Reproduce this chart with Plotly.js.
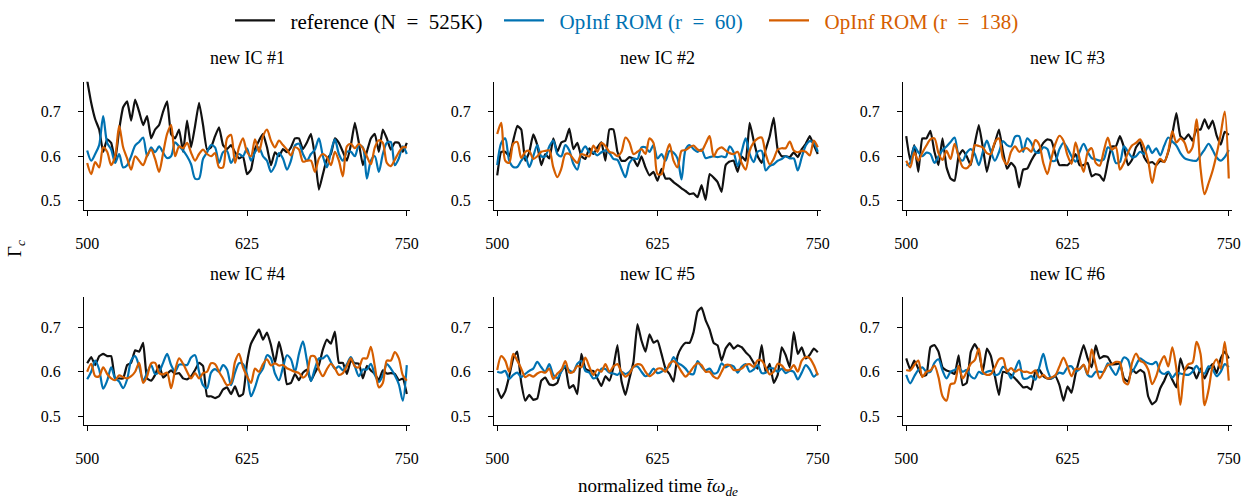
<!DOCTYPE html>
<html>
<head>
<meta charset="utf-8">
<script src="https://cdn.plot.ly/plotly-3.0.1.min.js"></script>
<style>html,body{margin:0;padding:0;background:#fff;}#chart{width:1256px;height:502px;}</style>
</head>
<body>
<div id="chart"></div>
<script>
// ---------- data ----------
const panelTitles = ["new IC #1", "new IC #2", "new IC #3", "new IC #4", "new IC #5", "new IC #6"];
const seriesNames = ["reference (N  =  525K)", "OpInf ROM (r  =  60)", "OpInf ROM (r  =  138)"];
const xTickVals = [500, 625, 750];
const yTickVals = [0.5, 0.6, 0.7];
const yTickText = ["0.5", "0.6", "0.7"];
const tStart = 500, tStep = 3.125, nSamples = 81;   // sampling times 500 ... 750

const ref1 = [0.77,0.72,0.683,0.66,0.61,0.638,0.63,0.59,0.66,0.71,0.723,0.68,0.727,0.70,0.67,0.69,0.64,0.66,0.67,0.70,0.723,0.65,0.64,0.66,0.61,0.68,0.62,0.668,0.72,0.67,0.615,0.62,0.645,0.665,0.625,0.616,0.625,0.609,0.595,0.60,0.56,
  0.57,0.616,0.635,0.65,0.62,0.58,0.609,0.60,0.616,0.609,0.62,0.64,0.64,0.616,0.631,0.65,0.60,0.525,0.56,0.594,0.605,0.64,0.63,0.61,0.59,0.625,0.675,0.63,0.58,0.61,0.64,0.65,0.61,0.66,0.64,0.615,0.631,0.63,0.61,0.63];
const rom60_1 = [0.613,0.59,0.605,0.625,0.69,0.63,0.615,0.585,0.605,0.575,0.58,0.60,0.624,0.632,0.642,0.60,0.62,0.609,0.622,0.608,0.596,0.60,0.631,0.622,0.613,0.60,0.582,0.55,0.55,0.594,0.609,0.625,0.62,0.585,0.609,0.612,0.585,0.60,0.605,0.60,0.618,
  0.59,0.609,0.62,0.60,0.59,0.565,0.579,0.607,0.595,0.57,0.59,0.624,0.628,0.605,0.59,0.605,0.615,0.64,0.60,0.575,0.61,0.638,0.605,0.59,0.61,0.61,0.60,0.625,0.62,0.55,0.59,0.60,0.565,0.605,0.63,0.632,0.58,0.595,0.622,0.605];
const rom138_1 = [0.585,0.56,0.587,0.575,0.62,0.61,0.58,0.60,0.668,0.62,0.595,0.57,0.60,0.59,0.58,0.602,0.615,0.594,0.565,0.607,0.65,0.67,0.60,0.622,0.618,0.63,0.608,0.59,0.605,0.615,0.605,0.60,0.607,0.575,0.575,0.64,0.648,0.585,0.62,0.64,0.61,
  0.60,0.638,0.61,0.645,0.66,0.635,0.62,0.635,0.625,0.615,0.602,0.62,0.615,0.588,0.59,0.59,0.565,0.595,0.605,0.598,0.58,0.61,0.59,0.555,0.622,0.628,0.618,0.628,0.618,0.60,0.582,0.62,0.636,0.63,0.585,0.578,0.592,0.609,0.62,0.62];

const ref2 = [0.557,0.61,0.61,0.60,0.635,0.668,0.66,0.59,0.609,0.649,0.625,0.58,0.605,0.595,0.64,0.61,0.631,0.635,0.662,0.616,0.63,0.60,0.594,0.618,0.605,0.62,0.631,0.59,0.66,0.66,0.61,0.59,0.59,0.598,0.594,0.578,0.60,0.575,0.557,0.565,0.545,
  0.572,0.55,0.55,0.542,0.535,0.528,0.522,0.515,0.517,0.508,0.535,0.502,0.56,0.552,0.542,0.52,0.58,0.588,0.59,0.565,0.60,0.59,0.675,0.635,0.60,0.585,0.615,0.645,0.686,0.615,0.60,0.60,0.598,0.609,0.598,0.616,0.628,0.645,0.625,0.605];
const rom60_2 = [0.58,0.63,0.64,0.59,0.576,0.576,0.59,0.60,0.576,0.60,0.625,0.60,0.60,0.622,0.635,0.605,0.60,0.625,0.613,0.583,0.57,0.608,0.622,0.609,0.609,0.602,0.609,0.613,0.607,0.594,0.592,0.572,0.553,0.585,0.595,0.594,0.62,0.62,0.61,0.625,0.595,
  0.605,0.59,0.612,0.608,0.595,0.548,0.615,0.625,0.616,0.61,0.615,0.596,0.598,0.60,0.598,0.60,0.598,0.622,0.609,0.578,0.61,0.64,0.605,0.587,0.61,0.612,0.568,0.578,0.582,0.59,0.594,0.60,0.595,0.595,0.568,0.598,0.624,0.634,0.63,0.61];
const rom138_2 = [0.65,0.675,0.59,0.585,0.628,0.632,0.596,0.61,0.612,0.594,0.60,0.61,0.612,0.613,0.575,0.553,0.572,0.605,0.605,0.594,0.585,0.605,0.602,0.60,0.624,0.61,0.63,0.623,0.61,0.607,0.60,0.61,0.642,0.631,0.605,0.61,0.616,0.605,0.64,0.63,0.56,
  0.56,0.60,0.627,0.59,0.575,0.612,0.614,0.62,0.624,0.615,0.612,0.628,0.645,0.60,0.615,0.62,0.613,0.607,0.605,0.61,0.585,0.57,0.612,0.631,0.64,0.642,0.605,0.582,0.594,0.615,0.618,0.618,0.633,0.613,0.609,0.612,0.61,0.602,0.635,0.62];

const ref3 = [0.645,0.59,0.625,0.565,0.64,0.64,0.657,0.61,0.58,0.64,0.575,0.55,0.545,0.60,0.614,0.60,0.58,0.628,0.67,0.62,0.565,0.605,0.63,0.66,0.61,0.572,0.585,0.575,0.53,0.57,0.572,0.59,0.605,0.614,0.63,0.638,0.635,0.605,0.58,0.58,0.58,
  0.59,0.605,0.58,0.58,0.585,0.555,0.56,0.557,0.545,0.587,0.622,0.622,0.645,0.62,0.58,0.592,0.62,0.632,0.598,0.585,0.587,0.58,0.59,0.587,0.61,0.65,0.697,0.645,0.638,0.649,0.635,0.66,0.66,0.683,0.662,0.68,0.646,0.626,0.655,0.648];
const rom60_3 = [0.579,0.585,0.622,0.609,0.60,0.608,0.605,0.585,0.60,0.614,0.622,0.632,0.642,0.60,0.59,0.608,0.616,0.605,0.58,0.61,0.635,0.61,0.59,0.609,0.634,0.625,0.622,0.644,0.645,0.61,0.64,0.63,0.61,0.608,0.62,0.616,0.59,0.59,0.616,0.63,0.618,
  0.60,0.588,0.61,0.628,0.61,0.596,0.593,0.59,0.593,0.62,0.612,0.585,0.587,0.622,0.61,0.598,0.60,0.61,0.605,0.624,0.607,0.618,0.602,0.624,0.642,0.633,0.624,0.607,0.596,0.592,0.59,0.59,0.602,0.615,0.628,0.614,0.597,0.59,0.598,0.614];
const rom138_3 = [0.59,0.575,0.608,0.59,0.608,0.624,0.638,0.64,0.607,0.592,0.612,0.594,0.628,0.60,0.576,0.573,0.585,0.625,0.623,0.62,0.607,0.605,0.632,0.64,0.595,0.582,0.61,0.622,0.61,0.616,0.618,0.61,0.636,0.626,0.585,0.56,0.595,0.628,0.646,0.635,0.602,
  0.583,0.631,0.595,0.565,0.609,0.618,0.585,0.579,0.612,0.642,0.615,0.62,0.57,0.585,0.608,0.624,0.63,0.638,0.62,0.59,0.54,0.58,0.594,0.587,0.612,0.656,0.631,0.64,0.631,0.608,0.62,0.683,0.572,0.515,0.54,0.568,0.605,0.65,0.70,0.55];

const ref4 = [0.619,0.633,0.615,0.635,0.64,0.635,0.635,0.585,0.585,0.585,0.615,0.62,0.648,0.645,0.665,0.585,0.58,0.593,0.615,0.587,0.595,0.603,0.595,0.597,0.585,0.583,0.59,0.604,0.62,0.613,0.545,0.545,0.541,0.545,0.56,0.565,0.55,0.567,0.545,0.55,0.62,
  0.663,0.68,0.695,0.672,0.688,0.66,0.62,0.667,0.63,0.572,0.575,0.595,0.581,0.598,0.605,0.58,0.598,0.615,0.65,0.672,0.663,0.69,0.62,0.62,0.595,0.625,0.619,0.618,0.585,0.613,0.603,0.595,0.581,0.603,0.596,0.597,0.595,0.581,0.585,0.55];
const rom60_4 = [0.583,0.60,0.625,0.605,0.562,0.58,0.61,0.585,0.578,0.563,0.583,0.625,0.635,0.612,0.58,0.598,0.615,0.595,0.60,0.62,0.64,0.615,0.60,0.616,0.616,0.615,0.632,0.637,0.60,0.57,0.563,0.598,0.606,0.60,0.615,0.605,0.57,0.598,0.619,0.617,0.595,
  0.545,0.565,0.593,0.607,0.637,0.63,0.596,0.581,0.61,0.637,0.628,0.60,0.64,0.668,0.625,0.579,0.607,0.63,0.63,0.637,0.622,0.607,0.612,0.603,0.617,0.633,0.612,0.59,0.605,0.605,0.618,0.593,0.577,0.592,0.617,0.607,0.592,0.572,0.535,0.615];
const rom138_4 = [0.60,0.618,0.59,0.59,0.61,0.595,0.585,0.581,0.592,0.588,0.585,0.59,0.60,0.62,0.575,0.59,0.619,0.62,0.597,0.594,0.598,0.563,0.603,0.63,0.618,0.60,0.585,0.597,0.585,0.597,0.60,0.619,0.617,0.60,0.585,0.57,0.575,0.622,0.64,0.61,0.59,
  0.575,0.607,0.60,0.617,0.628,0.614,0.619,0.614,0.615,0.608,0.604,0.60,0.597,0.587,0.595,0.635,0.634,0.605,0.59,0.606,0.618,0.608,0.593,0.597,0.613,0.63,0.612,0.61,0.63,0.63,0.656,0.612,0.565,0.575,0.625,0.625,0.644,0.63,0.592,0.58];

const ref5 = [0.563,0.541,0.556,0.59,0.63,0.645,0.575,0.535,0.548,0.537,0.54,0.58,0.587,0.572,0.57,0.575,0.604,0.61,0.563,0.57,0.55,0.64,0.607,0.602,0.602,0.585,0.568,0.59,0.58,0.61,0.66,0.58,0.548,0.585,0.622,0.707,0.67,0.645,0.684,0.665,0.67,
  0.64,0.607,0.595,0.578,0.635,0.655,0.665,0.665,0.689,0.735,0.744,0.716,0.695,0.665,0.659,0.625,0.652,0.664,0.652,0.659,0.655,0.644,0.635,0.62,0.607,0.66,0.598,0.618,0.575,0.593,0.655,0.637,0.61,0.689,0.64,0.655,0.63,0.638,0.652,0.644];
const rom60_5 = [0.60,0.598,0.602,0.584,0.593,0.598,0.588,0.595,0.602,0.607,0.622,0.61,0.60,0.617,0.593,0.586,0.60,0.613,0.603,0.60,0.618,0.624,0.602,0.598,0.585,0.59,0.607,0.606,0.598,0.596,0.593,0.60,0.595,0.60,0.611,0.612,0.60,0.59,0.595,0.607,0.597,
  0.60,0.607,0.612,0.633,0.62,0.615,0.607,0.596,0.595,0.624,0.611,0.603,0.607,0.596,0.599,0.619,0.61,0.615,0.612,0.598,0.611,0.617,0.60,0.605,0.615,0.597,0.598,0.608,0.607,0.60,0.607,0.597,0.602,0.60,0.583,0.598,0.615,0.605,0.589,0.598];
const rom138_5 = [0.604,0.635,0.625,0.60,0.64,0.625,0.607,0.588,0.593,0.589,0.596,0.60,0.598,0.607,0.584,0.596,0.604,0.624,0.598,0.60,0.613,0.61,0.632,0.611,0.593,0.605,0.60,0.617,0.60,0.612,0.617,0.60,0.589,0.596,0.611,0.617,0.615,0.60,0.59,0.596,0.607,
  0.607,0.60,0.618,0.624,0.615,0.60,0.589,0.598,0.611,0.619,0.615,0.60,0.60,0.589,0.585,0.60,0.615,0.615,0.604,0.604,0.607,0.615,0.617,0.611,0.626,0.625,0.61,0.594,0.60,0.618,0.614,0.604,0.604,0.615,0.60,0.625,0.633,0.63,0.615,0.592];

const ref6 = [0.63,0.605,0.625,0.607,0.59,0.593,0.655,0.66,0.645,0.61,0.603,0.60,0.595,0.637,0.57,0.575,0.644,0.662,0.645,0.60,0.652,0.635,0.59,0.548,0.60,0.597,0.593,0.585,0.575,0.565,0.566,0.56,0.60,0.605,0.59,0.585,0.585,0.59,0.57,0.535,0.567,
  0.553,0.595,0.63,0.66,0.63,0.61,0.659,0.63,0.635,0.633,0.617,0.617,0.618,0.585,0.578,0.605,0.597,0.604,0.598,0.545,0.527,0.535,0.563,0.58,0.60,0.582,0.565,0.63,0.603,0.61,0.607,0.585,0.607,0.585,0.605,0.617,0.597,0.63,0.645,0.63];
const rom60_6 = [0.593,0.574,0.59,0.604,0.61,0.60,0.60,0.62,0.628,0.603,0.585,0.60,0.604,0.61,0.60,0.604,0.59,0.585,0.60,0.595,0.60,0.602,0.593,0.595,0.611,0.604,0.585,0.605,0.625,0.585,0.585,0.59,0.582,0.61,0.64,0.605,0.585,0.592,0.598,0.596,0.61,
  0.612,0.60,0.606,0.615,0.593,0.589,0.60,0.60,0.60,0.619,0.605,0.593,0.613,0.632,0.627,0.60,0.615,0.63,0.624,0.619,0.617,0.622,0.60,0.595,0.60,0.587,0.597,0.596,0.594,0.593,0.60,0.613,0.60,0.596,0.612,0.605,0.59,0.60,0.617,0.61];
const rom138_6 = [0.604,0.603,0.615,0.625,0.588,0.60,0.603,0.614,0.588,0.545,0.535,0.572,0.575,0.613,0.585,0.60,0.618,0.626,0.652,0.60,0.593,0.595,0.61,0.628,0.63,0.60,0.608,0.60,0.605,0.60,0.60,0.597,0.603,0.587,0.593,0.585,0.587,0.592,0.612,0.632,0.612,
  0.59,0.607,0.606,0.616,0.595,0.65,0.615,0.585,0.60,0.615,0.617,0.622,0.621,0.578,0.572,0.62,0.641,0.625,0.62,0.605,0.572,0.59,0.619,0.635,0.612,0.655,0.607,0.526,0.60,0.617,0.62,0.667,0.64,0.525,0.56,0.612,0.628,0.607,0.667,0.58];

const refSeries = [ref1, ref2, ref3, ref4, ref5, ref6];
const rom60Series = [rom60_1, rom60_2, rom60_3, rom60_4, rom60_5, rom60_6];
const rom138Series = [rom138_1, rom138_2, rom138_3, rom138_4, rom138_5, rom138_6];

// ---------- styling ----------
const FONT = "Liberation Serif, DejaVu Serif, serif";
const colors = ["#111111", "#0072B2", "#D55E00"];
const legendTextColors = ["#000000", "#0072B2", "#D55E00"];
const legendIds = ["legend", "legend2", "legend3"];
const legendLeft = [230, 499, 764];   // left edge of each legend box (px)
const W = 1256, H = 502;
const colDom = [[84, 410], [494, 821], [903, 1232]];
const rowDom = [[75, 205], [294, 424]];

const time = [];
for (let i = 0; i < nSamples; i++) time.push(tStart + tStep * i);

// keep double spaces visible in legend text
const legendLabel = s => "\u00a0\u00a0" + s.replace(/  /g, "\u00a0\u00a0");

const traces = [];
const layout = {
  width: W, height: H,
  margin: {l: 0, r: 0, t: 0, b: 0},
  paper_bgcolor: "#fff", plot_bgcolor: "#fff",
  font: {family: FONT, size: 15, color: "#000"},
  showlegend: true,
  annotations: [], shapes: []
};
for (let s = 0; s < 3; s++) {
  layout[legendIds[s]] = {
    orientation: "h", x: legendLeft[s] / W, xanchor: "left", y: 1 - 13 / H, yanchor: "middle",
    font: {family: FONT, size: 21, color: legendTextColors[s]}, itemwidth: 40,
    bgcolor: "rgba(0,0,0,0)", borderwidth: 0
  };
}

for (let p = 0; p < 6; p++) {
  const r = Math.floor(p / 3), c = p % 3;
  const k = p + 1;
  const xa = k === 1 ? "xaxis" : "xaxis" + k;
  const ya = k === 1 ? "yaxis" : "yaxis" + k;
  const xr = k === 1 ? "x" : "x" + k;
  const yr = k === 1 ? "y" : "y" + k;
  layout[xa] = {
    domain: [colDom[c][0] / W, colDom[c][1] / W], anchor: yr,
    range: [497.5, 752.5], tickvals: xTickVals, ticktext: xTickVals.map(String),
    ticks: "outside", ticklen: 5, tickwidth: 1, tickcolor: "#000",
    showline: true, linecolor: "#000", linewidth: 1, mirror: false,
    showgrid: false, zeroline: false, fixedrange: true, ticklabelstandoff: 14,
    tickfont: {family: FONT, size: 16, color: "#000"}
  };
  layout[ya] = {
    domain: [1 - rowDom[r][1] / H, 1 - rowDom[r][0] / H], anchor: xr,
    range: [0.48, 0.767], tickvals: yTickVals, ticktext: yTickText,
    ticks: "outside", ticklen: 5, tickwidth: 1, tickcolor: "#000",
    showline: true, linecolor: "#000", linewidth: 1,
    showgrid: false, zeroline: false, fixedrange: true, ticklabelstandoff: 14,
    tickfont: {family: FONT, size: 16, color: "#000"}
  };
  const all = [refSeries[p], rom60Series[p], rom138Series[p]];
  for (let s = 0; s < 3; s++) {
    traces.push({
      type: "scatter", mode: "lines", x: time, y: all[s], xaxis: xr, yaxis: yr,
      name: legendLabel(seriesNames[s]), legend: legendIds[s],
      line: {color: colors[s], width: 2.2, shape: "spline", smoothing: s === 0 ? 0.4 : 0.8},
      showlegend: p === 0, hoverinfo: "skip"
    });
  }
  layout.annotations.push({
    text: panelTitles[p], xref: "paper", yref: "paper",
    x: (colDom[c][0] + colDom[c][1]) / 2 / W, y: 1 - (r === 0 ? 51 : 270) / H,
    xanchor: "center", yanchor: "middle", showarrow: false,
    font: {family: FONT, size: 18, color: "#000"}
  });
}
layout.annotations.push({
  text: "Γ<sub><i>c</i></sub>", xref: "paper", yref: "paper",
  x: 16 / W, y: 1 - 245 / H, xanchor: "center", yanchor: "middle",
  textangle: -90, showarrow: false, font: {family: FONT, size: 19, color: "#000"}
});
layout.annotations.push({
  text: "normalized time <i>t̄ω</i><sub><i>de</i></sub>", xref: "paper", yref: "paper",
  x: 658 / W, y: 1 - 487 / H, xanchor: "center", yanchor: "middle",
  showarrow: false, font: {family: FONT, size: 19, color: "#000"}
});

Plotly.newPlot("chart", traces, layout, {displayModeBar: false, staticPlot: true});
</script>
</body>
</html>
